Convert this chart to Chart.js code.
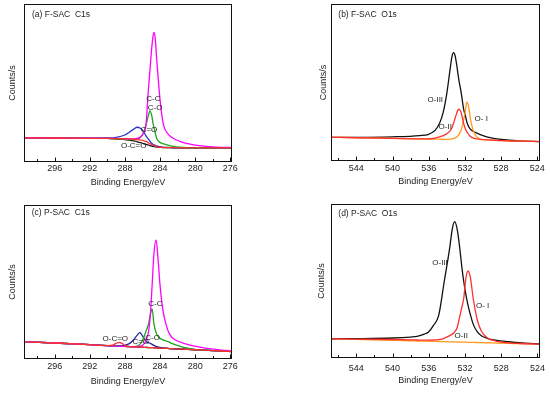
<!DOCTYPE html>
<html>
<head>
<meta charset="utf-8">
<script src="https://cdn.jsdelivr.net/npm/chart.js@4.4.1/dist/chart.umd.min.js"></script>
<style>
  body { margin: 0; width: 550px; height: 393px; background: #fff; position: relative; overflow: hidden; }
  canvas { position: absolute; }
</style>
</head>
<body>
<canvas id="chartA" width="275" height="196" style="left:0;top:0"></canvas>
<canvas id="chartB" width="275" height="196" style="left:275px;top:0"></canvas>
<canvas id="chartC" width="275" height="197" style="left:0;top:196px"></canvas>
<canvas id="chartD" width="275" height="197" style="left:275px;top:196px"></canvas>
<script>
// ---- tick labels ----
const ticksC1s = [296, 292, 288, 284, 280, 276];
const minorC1s = [298, 296, 294, 292, 290, 288, 286, 284, 282, 280, 278, 276];
const ticksO1s = [544, 540, 536, 532, 528, 524];
const minorO1s = [546, 544, 542, 540, 538, 536, 534, 532, 530, 528, 526, 524];

// ---- (a) F-SAC C1s ----
const eA = [299.5, 296, 292, 290, 289, 288, 287.5, 287, 286.6, 286.2, 285.9, 285.6, 285.35, 285.15, 284.95, 284.8, 284.7, 284.55, 284.4, 284.1, 283.85, 283.6, 283.2, 282.5, 281.8, 281, 280, 279, 277, 275.8];
const aMagenta = [15.3, 15.2, 15.1, 15.0, 14.9, 14.7, 14.6, 14.6, 14.9, 16.0, 18.2, 23.4, 44, 58, 72, 79.5, 82.1, 78.5, 66.5, 45.5, 32, 23.4, 18.5, 15.0, 13.2, 11.8, 10.7, 10.0, 9.3, 9.2];
const aGreen = [15.3, 15.2, 15.0, 14.9, 14.7, 14.4, 14.2, 14.1, 14.3, 15.8, 18.4, 23.4, 29.0, 32.3, 29.5, 24.5, 22.0, 18.5, 15.2, 12.8, 12.0, 11.5, 10.9, 9.9, 9.4, 9.1, 9.0, 9.0, 8.9, 8.9];
const aBlue = [15.3, 15.2, 15.1, 15.2, 15.6, 17.1, 18.8, 20.8, 22.0, 21.2, 19.5, 16.5, 14.6, 13.2, 11.9, 11.2, 10.9, 10.5, 10.2, 9.8, 9.5, 9.3, 9.2, 9.1, 9.0, 9.0, 9.0, 9.0, 8.9, 8.9];
const aRed = [15.3, 15.2, 15.0, 14.9, 14.8, 14.7, 14.6, 14.4, 14.2, 13.9, 13.6, 13.0, 12.3, 11.6, 10.9, 10.5, 10.3, 10.0, 9.7, 9.4, 9.3, 9.2, 9.1, 9.1, 9.0, 9.0, 9.0, 9.0, 8.9, 8.9];
const aBlack = [15.3, 15.2, 15.0, 14.9, 14.6, 14.2, 13.8, 13.3, 12.8, 12.2, 11.7, 11.2, 10.8, 10.4, 10.1, 9.9, 9.8, 9.6, 9.5, 9.3, 9.2, 9.1, 9.1, 9.0, 9.0, 9.0, 9.0, 9.0, 8.9, 8.9];

// ---- (b) F-SAC O1s ----
const eB = [546.8, 544, 540, 537, 536, 535.8, 535.3, 534.8, 534.4, 534.0, 533.6, 533.42, 533.25, 533.08, 532.9, 532.78, 532.65, 532.52, 532.4, 532.14, 531.95, 531.86, 531.77, 531.66, 531.55, 531.3, 530.85, 530.3, 529.5, 528, 526, 523.7];
const bBlack = [15.1, 15.1, 15.4, 16.2, 17.0, 17.6, 19.5, 24.0, 31, 43.1, 60, 66.8, 69.0, 67, 61, 56, 51, 47, 43.1, 33, 29, 26.7, 24.5, 23, 21.5, 19.8, 18.2, 16.8, 15.2, 13.7, 12.8, 12.4];
const bRed = [15.1, 14.8, 14.4, 14.1, 14.1, 14.2, 14.6, 15.3, 16.2, 17.3, 19.5, 21.4, 24.0, 27.4, 30.5, 32.4, 33.1, 32.3, 30.5, 24.0, 20.5, 19.4, 18.5, 17.5, 16.6, 15.2, 14.2, 13.8, 13.4, 13.0, 12.6, 12.4];
const bOrange = [15.1, 14.8, 14.4, 14.1, 14.0, 14.0, 13.9, 13.9, 13.8, 13.8, 13.9, 14.1, 14.3, 14.7, 15.3, 16.0, 17.0, 18.4, 20.0, 26.0, 32.0, 35.8, 37.6, 36.2, 33.0, 24.0, 16.6, 14.0, 13.4, 13.0, 12.6, 12.4];

// ---- (c) P-SAC C1s ----
const eC = [299.5, 296, 292, 290, 289.4, 289, 288.7, 288.3, 288, 287.5, 287, 286.6, 286.3, 286, 285.6, 285.3, 285.1, 284.9, 284.7, 284.45, 284.2, 284, 283.7, 283.3, 282.9, 282.3, 281.3, 280, 279, 277, 275.8];
const cMagenta = [11.3, 10.4, 9.3, 8.7, 8.55, 8.45, 8.35, 8.25, 8.2, 8.05, 7.95, 8.0, 8.3, 9.0, 11.8, 18, 29, 48, 68, 77.3, 63, 48, 32.9, 22, 16, 12.5, 10.2, 8.3, 7.2, 5.8, 5.2];
const cGreen = [11.3, 10.4, 9.3, 8.7, 8.55, 8.45, 8.35, 8.25, 8.2, 8.05, 7.95, 8.3, 9.5, 12.0, 18.0, 23.0, 29.0, 32.5, 23.0, 17.0, 14.5, 13.4, 12.6, 11.7, 10.8, 9.3, 7.5, 6.2, 5.7, 5.2, 4.85];
const cBlue = [11.3, 10.4, 9.3, 8.7, 8.55, 8.5, 8.5, 8.6, 8.9, 10.0, 12.5, 15.5, 17.1, 15.0, 11.4, 10.6, 10.1, 9.5, 8.8, 8.2, 7.8, 7.5, 7.2, 7.0, 6.8, 6.6, 6.35, 6.0, 5.7, 5.2, 4.85];
const cRed = [11.3, 10.4, 9.3, 8.7, 9.0, 10.2, 10.8, 10.0, 8.9, 8.1, 7.9, 7.8, 7.7, 7.65, 7.5, 7.45, 7.4, 7.35, 7.3, 7.2, 7.15, 7.1, 7.0, 6.9, 6.8, 6.6, 6.35, 6.0, 5.7, 5.2, 4.85];
const cBlack = [11.3, 10.4, 9.3, 8.7, 8.55, 8.45, 8.35, 8.25, 8.2, 8.05, 7.9, 7.8, 7.7, 7.65, 7.5, 7.45, 7.4, 7.35, 7.3, 7.2, 7.15, 7.1, 7.0, 6.9, 6.8, 6.6, 6.35, 6.0, 5.7, 5.2, 4.85];

// ---- (d) P-SAC O1s ----
const eD = [546.8, 544, 540, 538, 537.3, 536.5, 536, 535.5, 534.9, 534.3, 533.7, 533.4, 533.14, 532.85, 532.58, 532.35, 532.14, 531.9, 531.66, 531.4, 531.1, 530.66, 530.2, 529.56, 528.5, 527.2, 526, 523.7];
const dBlack = [12.5, 12.6, 13.0, 13.6, 14.0, 15.5, 17.1, 21.0, 27.9, 49.5, 71.2, 84, 88.5, 83, 71.2, 59, 49.5, 41, 34, 27.9, 22.0, 17.1, 14.5, 12.8, 11.5, 10.6, 9.9, 9.1];
const dRed = [12.5, 12.3, 12.0, 11.8, 11.7, 11.6, 11.6, 11.7, 12.0, 12.8, 14.5, 15.5, 17.0, 20.0, 27.0, 33.0, 38.8, 52, 56.5, 52, 38.8, 25.0, 17.5, 13.2, 10.8, 9.8, 9.4, 9.0];
const dOrange = [12.5, 12.1, 11.5, 11.2, 11.05, 10.95, 10.85, 10.8, 10.7, 10.6, 10.5, 10.45, 10.45, 10.4, 10.35, 10.3, 10.3, 10.25, 10.2, 10.15, 10.1, 10.05, 10.0, 9.9, 9.7, 9.5, 9.35, 9.0];

const FONT = "'Liberation Sans', Arial, sans-serif";
const TXT = '#1c1c1c';

function pts(e, v) {
    return e.map((x, i) => ({ x: x, y: v[i] }));
}

// box, inward ticks, panel title and peak labels
const framePlugin = {
    id: 'frame',
    afterDatasetsDraw(chart, args, opts) {
        const ctx = chart.ctx;
        const a = chart.chartArea;
        const x = chart.scales.x, y = chart.scales.y;
        ctx.save();
        ctx.strokeStyle = '#111';
        ctx.lineWidth = 1;
        const L = Math.round(a.left) + 0.5, R = Math.round(a.right) - 0.5;
        const T = Math.round(a.top) + 0.5, B = Math.round(a.bottom) - 0.5;
        ctx.strokeRect(L, T, R - L, B - T);
        ctx.beginPath();
        opts.minor.forEach(v => {
            const px = Math.round(x.getPixelForValue(v)) + 0.5;
            const len = opts.major.includes(v) ? 4 : 2.5;
            ctx.moveTo(px, B);
            ctx.lineTo(px, B - len);
        });
        ctx.stroke();

        ctx.fillStyle = TXT;
        ctx.font = '8.5px ' + FONT;
        ctx.textAlign = 'left';
        ctx.textBaseline = 'middle';
        ctx.fillText(opts.title, a.left + opts.titleDx, a.top + opts.titleDy);

        ctx.font = '8px ' + FONT;
        ctx.textAlign = 'center';
        opts.labels.forEach(l => {
            ctx.fillText(l.t, x.getPixelForValue(l.e), y.getPixelForValue(l.v));
        });
        ctx.restore();
    }
};

function makePanel(id, p) {
    new Chart(document.getElementById(id), {
        type: 'line',
        data: {
            datasets: p.series.map(s => ({
                data: pts(p.energy, s.v),
                borderColor: s.c,
                borderWidth: 1.3,
                pointRadius: 0,
                fill: false,
                cubicInterpolationMode: 'monotone'
            }))
        },
        options: {
            responsive: false,
            animation: false,
            events: [],
            layout: { padding: { left: p.padL, top: p.padT, right: p.padR, bottom: 0 } },
            plugins: {
                legend: { display: false },
                tooltip: { enabled: false },
                frame: {
                    title: p.title, titleDx: p.titleDx, titleDy: p.titleDy,
                    labels: p.labels, major: p.ticks, minor: p.minor
                }
            },
            scales: {
                x: {
                    type: 'linear',
                    reverse: true,
                    min: p.min,
                    max: p.max,
                    grid: { display: false, drawTicks: false },
                    border: { display: false },
                    afterBuildTicks: s => { s.ticks = p.ticks.map(v => ({ value: v })); },
                    afterFit: s => { s.height = p.xH; },
                    ticks: {
                        color: TXT,
                        font: { family: FONT, size: 9 },
                        padding: p.tickPad,
                        maxRotation: 0,
                        autoSkip: false
                    },
                    title: {
                        display: true,
                        text: 'Binding Energy/eV',
                        color: TXT,
                        font: { family: FONT, size: 9 },
                        padding: { top: 0, bottom: p.xTitlePad }
                    }
                },
                y: {
                    min: 0,
                    max: 100,
                    grid: { display: false, drawTicks: false },
                    border: { display: false },
                    ticks: { display: false },
                    afterFit: s => { s.width = 24; },
                    title: {
                        display: true,
                        text: 'Counts/s',
                        color: TXT,
                        font: { family: FONT, size: 9 },
                        padding: { top: p.yTitlePad, bottom: 0 }
                    }
                }
            }
        },
        plugins: [framePlugin]
    });
}

makePanel('chartA', {
    energy: eA, min: 275.8, max: 299.5, ticks: ticksC1s, minor: minorC1s,
    padL: 0, padT: 4, padR: 43, xH: 34, tickPad: 1, xTitlePad: 7.6, yTitlePad: 7.3,
    title: '(a) F-SAC  C1s', titleDx: 8, titleDy: 11,
    series: [
        { v: aRed, c: '#ff3030' },
        { v: aMagenta, c: '#ff00ff' },
        { v: aGreen, c: '#1aa51a' },
        { v: aBlue, c: '#3030d0' },
        { v: aBlack, c: '#111111' }
    ],
    labels: [
        { t: 'C-C', e: 284.75, v: 39.7 },
        { t: 'C-O', e: 284.57, v: 34.4 },
        { t: 'C=O', e: 285.26, v: 20.3 },
        { t: 'O-C=O', e: 287.0, v: 10.3 }
    ]
});

makePanel('chartB', {
    energy: eB, min: 523.7, max: 546.8, ticks: ticksO1s, minor: minorO1s,
    padL: 32, padT: 4, padR: 10, xH: 35, tickPad: 1.9, xTitlePad: 8.9, yTitlePad: 10.9,
    title: '(b) F-SAC  O1s', titleDx: 7.3, titleDy: 11,
    series: [
        { v: bRed, c: '#ff3030' },
        { v: bOrange, c: '#ff9a1a' },
        { v: bBlack, c: '#111111' }
    ],
    labels: [
        { t: 'O-III', e: 535.27, v: 39.3 },
        { t: 'O-II', e: 534.17, v: 21.8 },
        { t: 'O- I', e: 530.19, v: 26.8 }
    ]
});

makePanel('chartC', {
    energy: eC, min: 275.8, max: 299.5, ticks: ticksC1s, minor: minorC1s,
    padL: 0, padT: 9, padR: 43, xH: 34, tickPad: 2.3, xTitlePad: 5.9, yTitlePad: 7.3,
    title: '(c) P-SAC  C1s', titleDx: 7.7, titleDy: 7.7,
    series: [
        { v: cRed, c: '#ff3030' },
        { v: cMagenta, c: '#ff00ff' },
        { v: cGreen, c: '#1aa51a' },
        { v: cBlue, c: '#25259a' },
        { v: cBlack, c: '#111111' }
    ],
    labels: [
        { t: 'C-C', e: 284.53, v: 35.9 },
        { t: 'C-O', e: 284.85, v: 13.9 },
        { t: 'C=O', e: 286.2, v: 11.2 },
        { t: 'O-C=O', e: 289.1, v: 13.2 }
    ]
});

makePanel('chartD', {
    energy: eD, min: 523.7, max: 546.8, ticks: ticksO1s, minor: minorO1s,
    padL: 32, padT: 8, padR: 9, xH: 35, tickPad: 4.9, xTitlePad: 7.3, yTitlePad: 9.3,
    title: '(d) P-SAC  O1s', titleDx: 7.3, titleDy: 9.3,
    series: [
        { v: dRed, c: '#ff3030' },
        { v: dBlack, c: '#111111' },
        { v: dOrange, c: '#ff9a1a' }
    ],
    labels: [
        { t: 'O-III', e: 534.76, v: 61.9 },
        { t: 'O- I', e: 530.06, v: 33.8 },
        { t: 'O-II', e: 532.42, v: 14.3 }
    ]
});
</script>
</body>
</html>
